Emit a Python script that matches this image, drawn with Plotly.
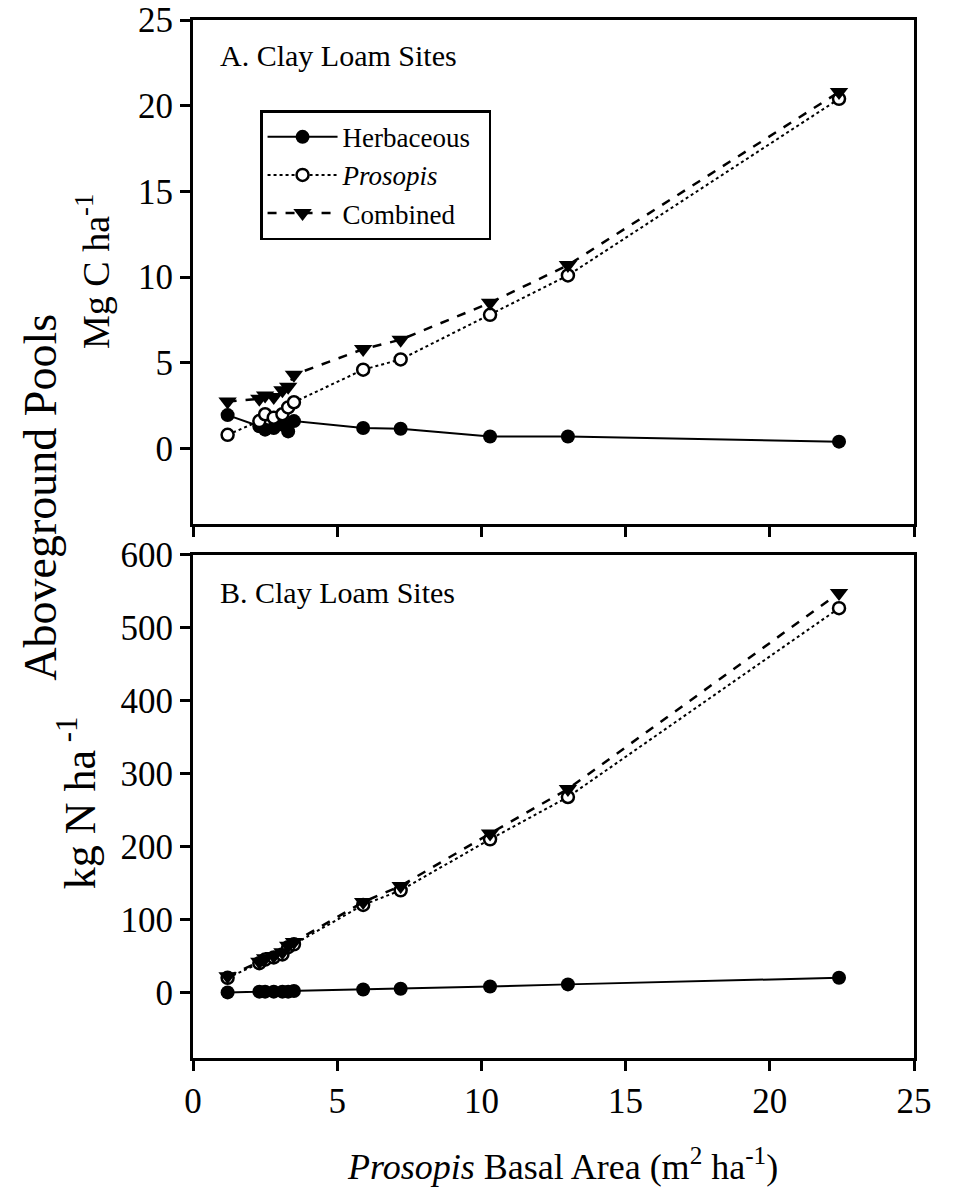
import plotly.graph_objects as go

# Prosopis basal area (m2 ha-1)
basal_area = [1.2, 2.3, 2.5, 2.8, 3.1, 3.3, 3.5, 5.9, 7.2, 10.3, 13.0, 22.4]

# Panel A: Mg C ha-1
herb_c = [1.95, 1.3, 1.1, 1.2, 1.4, 1.0, 1.6, 1.2, 1.15, 0.7, 0.7, 0.4]
prosopis_c = [0.8, 1.6, 2.0, 1.8, 2.0, 2.4, 2.7, 4.6, 5.2, 7.8, 10.1, 20.4]
combined_c = [2.75, 2.9, 3.1, 3.0, 3.4, 3.6, 4.3, 5.8, 6.35, 8.5, 10.7, 20.8]

# Panel B: kg N ha-1
herb_n = [0, 1, 1, 1, 1, 1, 2, 4, 5, 8, 11, 20]
prosopis_n = [20, 40, 45, 48, 52, 62, 66, 120, 140, 210, 268, 527]
combined_n = [22, 42, 47, 50, 55, 64, 69, 124, 146, 218, 279, 548]

series_names = ["Herbaceous\u00a0\u00a0", "<i>Prosopis</i>", "Combined"]
x_ticks = [0, 5, 10, 15, 20, 25]
yA_ticks = [0, 5, 10, 15, 20, 25]
yB_ticks = [0, 100, 200, 300, 400, 500, 600]

FONT = "Liberation Serif, Times New Roman, serif"

fig = go.Figure()

styles = [
    dict(line=dict(color="black", width=2, dash="solid"),
         marker=dict(symbol="circle", size=14, color="black")),
    dict(line=dict(color="black", width=2, dash="dot"),
         marker=dict(symbol="circle", size=12, color="white",
                     line=dict(color="black", width=2.5))),
    dict(line=dict(color="black", width=2.5, dash="dash"),
         marker=dict(symbol="triangle-down", size=16, color="black")),
]

for name, ys, st in zip(series_names, [herb_c, prosopis_c, combined_c], styles):
    fig.add_trace(go.Scatter(x=basal_area, y=ys, mode="lines+markers", name=name,
                             xaxis="x", yaxis="y", showlegend=True, **st))
for name, ys, st in zip(series_names, [herb_n, prosopis_n, combined_n], styles):
    fig.add_trace(go.Scatter(x=basal_area, y=ys, mode="lines+markers", name=name,
                             xaxis="x2", yaxis="y2", showlegend=False, **st))

axis_common = dict(showline=True, linecolor="black", linewidth=3, mirror=True,
                   ticks="outside", ticklen=10, tickwidth=2.5, tickcolor="black",
                   showgrid=False, zeroline=False, automargin=False,
                   ticklabeloverflow="allow",
                   tickfont=dict(family=FONT, size=35, color="black"))

fig.update_layout(
    width=954, height=1197,
    margin=dict(l=185, r=48, t=12, b=147, autoexpand=False),
    paper_bgcolor="white", plot_bgcolor="white",
    font=dict(family=FONT, color="black"),
    xaxis=dict(domain=[0, 1], range=[0, 25], tickvals=x_ticks, showticklabels=False,
               anchor="y", **axis_common),
    yaxis=dict(domain=[0.5145, 1], range=[-4.4, 25], tickvals=yA_ticks,
               anchor="x", **axis_common),
    xaxis2=dict(domain=[0, 1], range=[0, 25], tickvals=x_ticks, anchor="y2",
                **axis_common),
    yaxis2=dict(domain=[0, 0.4846], range=[-90, 600], tickvals=yB_ticks,
                anchor="x2", **axis_common),
    legend=dict(x=0.093, y=0.913, xanchor="left", yanchor="top",
                bordercolor="black", borderwidth=2.5, bgcolor="white",
                font=dict(family=FONT, size=27, color="black"),
                itemwidth=70, tracegroupgap=0),
    showlegend=True,
)

ann = [
    dict(text="A. Clay Loam Sites", xref="x domain", yref="y domain", x=0.035, y=0.93,
         xanchor="left", yanchor="middle", showarrow=False, font=dict(size=30)),
    dict(text="B. Clay Loam Sites", xref="x2 domain", yref="y2 domain", x=0.035, y=0.926,
         xanchor="left", yanchor="middle", showarrow=False, font=dict(size=30)),
    dict(text="Mg C ha<sup>-1</sup>", xref="paper", yref="paper", x=-0.139, y=0.758,
         xanchor="center", yanchor="middle", textangle=-90, showarrow=False,
         font=dict(size=38)),
    dict(text="kg N ha<sup> -1</sup>", xref="paper", yref="paper", x=-0.16, y=0.246,
         xanchor="center", yanchor="middle", textangle=-90, showarrow=False,
         font=dict(size=44)),
    dict(text="Aboveground Pools", xref="paper", yref="paper", x=-0.212, y=0.540,
         xanchor="center", yanchor="middle", textangle=-90, showarrow=False,
         font=dict(size=46)),
    dict(text="<i>Prosopis</i> Basal Area (m<sup>2</sup> ha<sup>-1</sup>)", xref="paper",
         yref="paper", x=0.512, y=-0.103, xanchor="center", yanchor="middle",
         showarrow=False, font=dict(size=36)),
]
for a in ann:
    a["font"]["family"] = FONT
    a["font"]["color"] = "black"
fig.update_layout(annotations=ann)

fig.write_html("out.html")
